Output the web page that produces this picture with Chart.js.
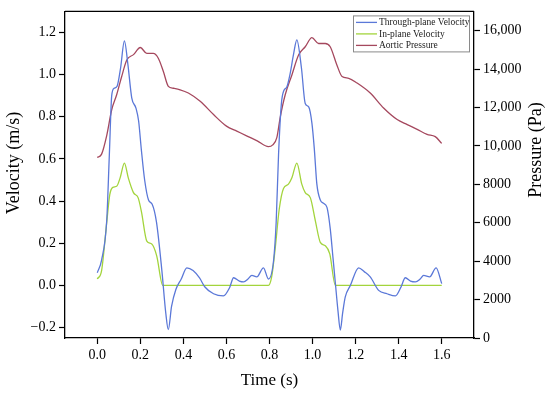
<!DOCTYPE html>
<html>
<head>
<meta charset="utf-8">
<script src="https://cdn.jsdelivr.net/npm/chart.js@4.4.1/dist/chart.umd.min.js"></script>
<style>
  html, body { margin: 0; padding: 0; background: #fff; }
  canvas { display: block; }
</style>
</head>
<body>
<canvas id="chart-area" width="550" height="394"></canvas>
<script>
// values (two cardiac cycles)
const timeThrough = [0, 0.02, 0.044, 0.056, 0.067, 0.078, 0.092, 0.108, 0.126, 0.142,
    0.16, 0.18, 0.192, 0.205, 0.22, 0.238, 0.255, 0.275, 0.3, 0.318,
    0.33, 0.345, 0.365, 0.39, 0.416, 0.445, 0.475, 0.5, 0.54, 0.586,
    0.615, 0.633, 0.66, 0.68, 0.7, 0.718, 0.741, 0.772, 0.795,
    0.819, 0.831, 0.842, 0.855, 0.867, 0.88, 0.895, 0.912, 0.927, 0.948,
    0.966, 0.982, 0.997, 1.008, 1.02, 1.036, 1.05, 1.067, 1.082, 1.095,
    1.106, 1.118, 1.129, 1.14, 1.152, 1.176, 1.214, 1.24, 1.268, 1.307,
    1.346, 1.385, 1.41, 1.431, 1.455, 1.478, 1.5, 1.516, 1.544, 1.574, 1.6];
const velThrough = [0.06, 0.12, 0.31, 0.62, 0.9, 0.935, 0.945, 1.03, 1.16, 1.05,
    0.89, 0.84, 0.78, 0.64, 0.5, 0.405, 0.385, 0.3, 0.07, -0.13,
    -0.21, -0.1, -0.02, 0.03, 0.083, 0.07, 0.035, -0.008, -0.04, -0.05,
    -0.01, 0.036, 0.02, 0.016, 0.03, 0.047, 0.04, 0.083, 0.03,
    0.118, 0.3, 0.62, 0.86, 0.925, 0.94, 1.0, 1.098, 1.165, 1.035,
    0.863, 0.847, 0.77, 0.65, 0.48, 0.405, 0.39, 0.37, 0.27, 0.13,
    0.01, -0.12, -0.212, -0.13, -0.055, 0.0, 0.083, 0.065, 0.04, -0.024,
    -0.04, -0.05, -0.01, 0.036, 0.02, 0.016, 0.03, 0.047, 0.04, 0.083, 0.008];

const timeInPlane = [0, 0.02, 0.044, 0.058, 0.072, 0.09, 0.106, 0.126, 0.144, 0.168,
    0.19, 0.205, 0.23, 0.253, 0.276, 0.304, 0.795, 0.81, 0.827, 0.845,
    0.865, 0.888, 0.904, 0.927, 0.95, 0.966, 0.99, 1.013, 1.036, 1.059,
    1.08, 1.106, 1.6];
const velInPlane = [0.03, 0.07, 0.3, 0.43, 0.465, 0.47, 0.51, 0.58, 0.51, 0.44,
    0.415, 0.35, 0.21, 0.196, 0.14, 0, 0, 0.04, 0.18, 0.36,
    0.46, 0.48, 0.51, 0.58, 0.48, 0.44, 0.415, 0.306, 0.204, 0.188,
    0.149, 0, 0];

const timePressure = [0, 0.02, 0.044, 0.067, 0.09, 0.113, 0.137, 0.168, 0.2, 0.23,
    0.26, 0.284, 0.307, 0.33, 0.354, 0.385, 0.423, 0.478, 0.54, 0.6,
    0.648, 0.696, 0.743, 0.795, 0.815, 0.834, 0.85, 0.873, 0.904, 0.935,
    0.966, 0.997, 1.028, 1.059, 1.082, 1.113, 1.137, 1.168, 1.207, 1.268,
    1.33, 1.393, 1.44, 1.486, 1.532, 1.57, 1.6];
const pressure = [9400, 9570, 10550, 11880, 12660, 13600, 14470, 14750, 15120, 14810,
    14810, 14550, 13870, 13100, 13000, 12920, 12750, 12320, 11630, 11030,
    10770, 10510, 10260, 9960, 10050, 10430, 11500, 12660, 13690, 14730,
    15160, 15630, 15330, 15330, 15160, 14210, 13610, 13520, 13270, 12750,
    11970, 11370, 11110, 10860, 10600, 10480, 10130];

const seriesNames = ['Through-plane Velocity', 'In-plane Velocity', 'Aortic Pressure'];
const timeTicks = [0, 0.2, 0.4, 0.6, 0.8, 1.0, 1.2, 1.4, 1.6];
const velocityTicks = [-0.2, 0, 0.2, 0.4, 0.6, 0.8, 1.0, 1.2];
const pressureTicks = [0, 2000, 4000, 6000, 8000, 10000, 12000, 14000, 16000];
const xTitle = 'Time (s)';
const yTitle = 'Velocity (m/s)';
const y1Title = 'Pressure (Pa)';

const SERIF = '"Liberation Serif", "Times New Roman", serif';
Chart.defaults.font.family = SERIF;
Chart.defaults.color = '#000';

function toPoints(xs, ys) {
    return xs.map(function (x, i) { return {x: x, y: ys[i]}; });
}

function fixedTicks(values) {
    return function (scale) {
        scale.ticks = values.map(function (v) { return {value: v}; });
    };
}

// top frame line, rotated axis titles and the boxed legend
const framePlugin = {
    id: 'framePlugin',
    afterDraw: function (chart) {
        const ctx = chart.ctx;
        const a = chart.chartArea;
        ctx.save();
        ctx.strokeStyle = '#000';
        ctx.lineWidth = 1.3;
        ctx.beginPath();
        ctx.moveTo(a.left, a.top);
        ctx.lineTo(a.right, a.top);
        ctx.stroke();

        ctx.fillStyle = '#000';
        ctx.textAlign = 'center';
        ctx.textBaseline = 'middle';
        ctx.font = '18px ' + SERIF;
        [[14, 163, yTitle], [536, 150, y1Title]].forEach(function (t) {
            ctx.save();
            ctx.translate(t[0], t[1]);
            ctx.rotate(-Math.PI / 2);
            ctx.fillText(t[2], 0, 0);
            ctx.restore();
        });

        // legend
        const bx = a.right - 121, by = a.top + 4, bw = 116, bh = 36;
        ctx.fillStyle = '#fff';
        ctx.fillRect(bx, by, bw, bh);
        ctx.strokeStyle = '#8a8a8a';
        ctx.lineWidth = 1;
        ctx.strokeRect(bx + 0.5, by + 0.5, bw, bh);
        ctx.font = '9.5px ' + SERIF;
        ctx.textAlign = 'left';
        chart.data.datasets.forEach(function (ds, i) {
            const y = by + 7 + i * 11.5;
            ctx.strokeStyle = ds.borderColor;
            ctx.lineWidth = 1.3;
            ctx.beginPath();
            ctx.moveTo(bx + 3, y);
            ctx.lineTo(bx + 24, y);
            ctx.stroke();
            ctx.fillStyle = '#222';
            ctx.fillText(ds.label, bx + 26, y + 0.5);
        });
        ctx.restore();
    }
};

const axisLook = {
    grid: {display: true, drawOnChartArea: false, drawTicks: true, tickLength: 6, tickColor: '#000', tickWidth: 1.2},
    border: {display: true, color: '#000', width: 1.3}
};

const config = {
    type: 'line',
    data: {
        datasets: [{
            label: seriesNames[0],
            data: toPoints(timeThrough, velThrough),
            borderColor: '#5b78d8',
            yAxisID: 'y'
        }, {
            label: seriesNames[1],
            data: toPoints(timeInPlane, velInPlane),
            borderColor: '#a3d43c',
            yAxisID: 'y'
        }, {
            label: seriesNames[2],
            data: toPoints(timePressure, pressure),
            borderColor: '#a5485e',
            yAxisID: 'y1'
        }]
    },
    options: {
        responsive: false,
        animation: false,
        layout: {padding: {top: 9}},
        elements: {
            point: {radius: 0},
            line: {borderWidth: 1.3, cubicInterpolationMode: 'monotone', fill: false}
        },
        plugins: {legend: {display: false}, tooltip: {enabled: false}},
        scales: {
            x: Object.assign({
                type: 'linear',
                min: -0.15,
                max: 1.75,
                afterBuildTicks: fixedTicks(timeTicks),
                afterFit: function (s) { s.height = 56; },
                ticks: {font: {size: 14}, padding: 3, callback: function (v) { return v.toFixed(1); }},
                title: {display: true, text: xTitle, font: {size: 17}, padding: {top: 0, bottom: 3}}
            }, axisLook),
            y: Object.assign({
                position: 'left',
                min: -0.25,
                max: 1.3,
                afterBuildTicks: fixedTicks(velocityTicks),
                afterFit: function (s) { s.width = 65; },
                ticks: {font: {size: 14}, padding: 3, callback: function (v) {
                    return v < 0 ? '\u2212' + Math.abs(v).toFixed(1) : v.toFixed(1);
                }}
            }, axisLook),
            y1: Object.assign({
                position: 'right',
                min: 0,
                max: 17000,
                afterBuildTicks: fixedTicks(pressureTicks),
                afterFit: function (s) { s.width = 76; },
                ticks: {font: {size: 14}, padding: 3, callback: function (v) {
                    return v >= 10000 ? v.toLocaleString('en-US') : String(v);
                }}
            }, axisLook)
        }
    },
    plugins: [framePlugin]
};

var ctx = document.getElementById('chart-area').getContext('2d');
window.myChart = new Chart(ctx, config);
</script>
</body>
</html>
